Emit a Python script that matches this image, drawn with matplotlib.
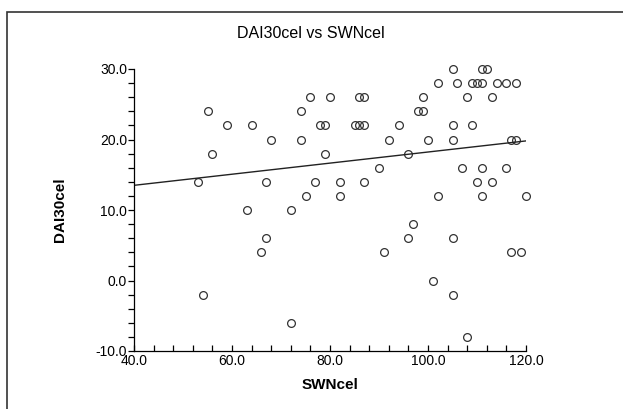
import numpy as np
import matplotlib; matplotlib.use("Agg")
import matplotlib.pyplot as plt
from matplotlib.patches import Rectangle
from matplotlib.ticker import MultipleLocator, FormatStrFormatter

plt.rcParams["font.family"] = ["Liberation Sans", "DejaVu Sans"]

# SWNcel / DAI30cel values
swn = [55, 59, 64, 68, 56, 53, 67, 102, 76, 80, 86, 87, 99, 74, 98, 99,
       78, 79, 85, 86, 87, 94, 74, 92, 100, 79, 96, 90, 77, 82, 87, 75, 82, 102,
       105, 111, 112, 106, 109, 110, 111, 114, 116, 118, 108, 113, 105, 109,
       105, 117, 118, 107, 111, 116, 110, 113, 111, 120,
       63, 72, 67, 66, 54, 72, 97, 96, 91, 101, 105, 117, 119, 105, 108]
dai = [24, 22, 22, 20, 18, 14, 14, 28, 26, 26, 26, 26, 26, 24, 24, 24,
       22, 22, 22, 22, 22, 22, 20, 20, 20, 18, 18, 16, 14, 14, 14, 12, 12, 12,
       30, 30, 30, 28, 28, 28, 28, 28, 28, 28, 26, 26, 22, 22,
       20, 20, 20, 16, 16, 16, 14, 14, 12, 12,
       10, 10, 6, 4, -2, -6, 8, 6, 4, 0, 6, 4, 4, -2, -8]
fit_x = [40, 120]
fit_y = [13.5, 19.8]

W, H = 623, 409
fig = plt.figure(figsize=(W / 100, H / 100), dpi=100)
fig.patches.append(Rectangle((7 / W, -0.1), 1.2, 1.1 - 12 / H, transform=fig.transFigure,
                             fill=False, ec="#333333", lw=1.2))
ax = fig.add_axes([134 / W, 1 - 351 / H, (526 - 134) / W, (351 - 69) / H])

ax.plot(swn, dai, "o", ms=5.6, mfc="none", mec="#333333", mew=0.9, clip_on=False)
ax.plot(fit_x, fit_y, color="#222222", lw=1.0)

ax.set_xlim(40, 120); ax.set_ylim(-10, 30)
ax.xaxis.set_major_locator(MultipleLocator(20)); ax.xaxis.set_minor_locator(MultipleLocator(4))
ax.yaxis.set_major_locator(MultipleLocator(10)); ax.yaxis.set_minor_locator(MultipleLocator(2))
ax.xaxis.set_major_formatter(FormatStrFormatter("%.1f"))
ax.yaxis.set_major_formatter(FormatStrFormatter("%.1f"))
ax.tick_params(axis="x", which="both", direction="in", length=4, width=0.9, labelsize=10, pad=2)
ax.tick_params(axis="y", which="both", direction="out", length=4, width=0.9, labelsize=10, pad=1)
for s in ["top", "right"]:
    ax.spines[s].set_visible(False)
for s in ["left", "bottom"]:
    ax.spines[s].set_linewidth(0.9)

fig.text(311 / W, 1 - 34 / H, "DAI30cel vs SWNcel", ha="center", va="center", fontsize=11.5)
fig.text(330 / W, 1 - 385 / H, "SWNcel", ha="center", va="center", fontsize=11, fontweight="bold")
fig.text(60 / W, 1 - 210 / H, "DAI30cel", ha="center", va="center", fontsize=11,
         fontweight="bold", rotation=90)

fig.savefig("out.png", dpi=100)
